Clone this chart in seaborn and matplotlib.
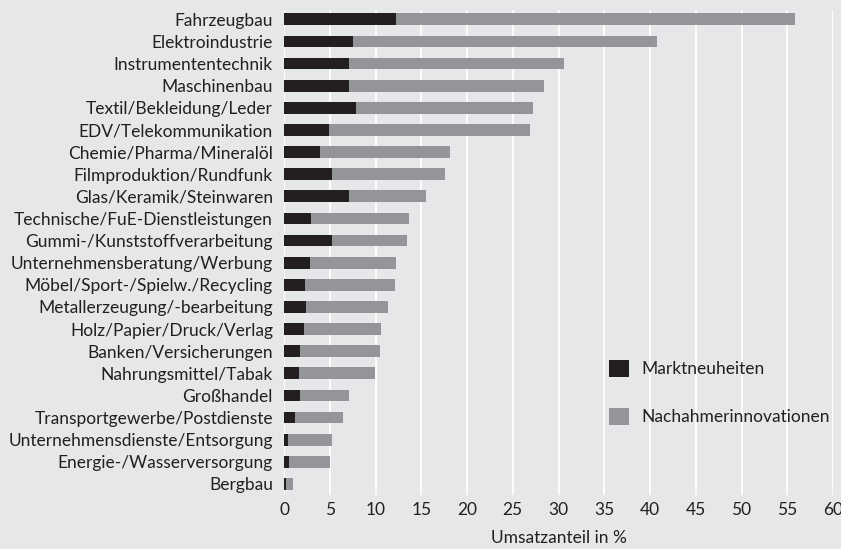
import matplotlib
matplotlib.use("Agg")
import matplotlib.pyplot as plt
from matplotlib.patches import Patch
import seaborn as sns
import pandas as pd

branchen = [
    "Fahrzeugbau", "Elektroindustrie", "Instrumententechnik", "Maschinenbau",
    "Textil/Bekleidung/Leder", "EDV/Telekommunikation", "Chemie/Pharma/Mineralöl",
    "Filmproduktion/Rundfunk", "Glas/Keramik/Steinwaren",
    "Technische/FuE-Dienstleistungen", "Gummi-/Kunststoffverarbeitung",
    "Unternehmensberatung/Werbung", "Möbel/Sport-/Spielw./Recycling",
    "Metallerzeugung/-bearbeitung", "Holz/Papier/Druck/Verlag",
    "Banken/Versicherungen", "Nahrungsmittel/Tabak", "Großhandel",
    "Transportgewerbe/Postdienste", "Unternehmensdienste/Entsorgung",
    "Energie-/Wasserversorgung", "Bergbau",
]
marktneuheiten = [12.2, 7.5, 7.1, 7.1, 7.9, 4.9, 3.9, 5.2, 7.1, 2.9, 5.2,
                  2.8, 2.3, 2.4, 2.2, 1.7, 1.6, 1.7, 1.2, 0.4, 0.5, 0.25]
nachahmer = [43.7, 33.3, 23.5, 21.3, 19.3, 22.0, 14.2, 12.4, 8.4, 10.8, 8.2,
             9.4, 9.8, 9.0, 8.4, 8.8, 8.3, 5.4, 5.2, 4.8, 4.5, 0.75]
x_ticks = list(range(0, 61, 5))

BG = "#e6e7e8"
BLACK = "#231f20"
GRAY = "#939598"
FS = 12.5

df = pd.DataFrame({"Branche": branchen, "Markt": marktneuheiten, "Nach": nachahmer})
df["Gesamt"] = df["Markt"] + df["Nach"]

sns.set_theme(style="white")
plt.rcParams["font.family"] = ["Lato", "DejaVu Sans"]
plt.rcParams["text.color"] = BLACK

fig = plt.figure(figsize=(8.41, 5.49), dpi=100, facecolor=BG)
ax = fig.add_axes([284 / 841, 1 - 495 / 549, (833 - 284) / 841, 485 / 549])
ax.set_facecolor(BG)

sns.barplot(data=df, y="Branche", x="Gesamt", color=GRAY, saturation=1,
            width=0.53, orient="h", ax=ax, zorder=3, linewidth=0)
sns.barplot(data=df, y="Branche", x="Markt", color=BLACK, saturation=1,
            width=0.53, orient="h", ax=ax, zorder=4, linewidth=0)

ax.set_xlim(0, 60)
ax.set_ylim(21.5, -0.42)
ax.set_xticks(x_ticks)
ax.set_xticklabels([str(t) for t in x_ticks])
ax.grid(axis="x", color="white", linewidth=1.3, zorder=0)
ax.grid(axis="y", visible=False)
ax.set_axisbelow(True)
for s in ax.spines.values():
    s.set_visible(False)
ax.tick_params(axis="y", length=0, pad=8, labelsize=FS, labelcolor=BLACK)
ax.tick_params(axis="x", length=0, pad=5, labelsize=FS, labelcolor=BLACK)
ax.set_ylabel("")
ax.set_xlabel("Umsatzanteil in %", fontsize=FS, color=BLACK, labelpad=9)

handles = [Patch(facecolor=BLACK, edgecolor="none"), Patch(facecolor=GRAY, edgecolor="none")]
fig.legend(handles, ["Marktneuheiten", "Nachahmerinnovationen"],
           loc="upper left", bbox_to_anchor=(609 / 841, 1 - 360 / 549),
           frameon=False, fontsize=FS, handlelength=1.15, handleheight=1.15,
           handletextpad=0.7, labelspacing=1.73, borderpad=0, borderaxespad=0)

fig.savefig("out.png", dpi=100, facecolor=BG)
